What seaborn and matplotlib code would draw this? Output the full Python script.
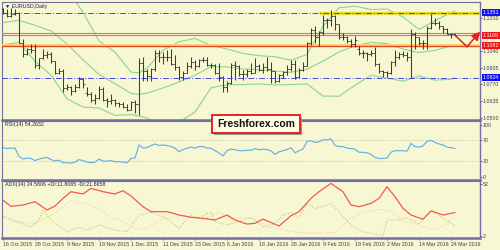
import matplotlib
matplotlib.use("Agg")
import matplotlib.pyplot as plt
import seaborn as sns
import pandas as pd
from matplotlib.patches import Rectangle

# ---------------- data ----------------
date_labels = ['16 Oct 2015', '28 Oct 2015', '9 Nov 2015', '19 Nov 2015', '1 Dec 2015',
               '11 Dec 2015', '23 Dec 2015', '6 Jan 2016', '18 Jan 2016', '28 Jan 2016',
               '9 Feb 2016', '19 Feb 2016', '2 Mar 2016', '14 Mar 2016', '24 Mar 2016']
label_bars = [0, 8, 16, 24, 32, 40, 48, 56, 64, 72, 80, 88, 96, 104, 112]

opens = [1.1380, 1.1350, 1.1323, 1.1343, 1.1344, 1.1108, 1.1015, 1.1055, 1.1048, 1.0925,
         1.0980, 1.1005, 1.1015, 1.0957, 1.0860, 1.0880, 1.0740, 1.0750, 1.0720, 1.0750,
         1.0815, 1.0700, 1.0688, 1.0645, 1.0658, 1.0730, 1.0645, 1.0635, 1.0645, 1.0620,
         1.0610, 1.0590, 1.0565, 1.0630, 1.0612, 1.0940, 1.0880, 1.0835, 1.0895, 1.1025,
         1.0990, 1.0990, 1.0995, 1.0935, 1.0910, 1.0830, 1.0865, 1.0918, 1.0955, 1.0915,
         1.0965, 1.0970, 1.0925, 1.0930, 1.0860, 1.0830, 1.0745, 1.0780, 1.0930, 1.0920,
         1.0855, 1.0855, 1.0875, 1.0865, 1.0915, 1.0890, 1.0910, 1.0895, 1.0875, 1.0795,
         1.0845, 1.0870, 1.0895, 1.0935, 1.0830, 1.0885, 1.0920, 1.1105, 1.1210, 1.1155,
         1.1195, 1.1290, 1.1290, 1.1325, 1.1255, 1.1155, 1.1150, 1.1125, 1.1100, 1.1060,
         1.1020, 1.1020, 1.1015, 1.1025, 1.0935, 1.0875, 1.0870, 1.0865, 1.0955, 1.0995,
         1.1015, 1.1005, 1.0995, 1.1180, 1.1150, 1.1105, 1.1105, 1.1225, 1.1270, 1.1265,
         1.1240, 1.1220, 1.1180, 1.1180]
highs = [1.1387, 1.1379, 1.1386, 1.1381, 1.1358, 1.1135, 1.1065, 1.1095, 1.1094, 1.0985,
         1.1055, 1.1040, 1.1035, 1.0960, 1.0900, 1.0895, 1.0775, 1.0760, 1.0770, 1.0830,
         1.0820, 1.0750, 1.0705, 1.0690, 1.0760, 1.0750, 1.0660, 1.0690, 1.0650, 1.0630,
         1.0625, 1.0610, 1.0635, 1.0640, 1.0981, 1.0990, 1.0895, 1.0900, 1.1045, 1.1045,
         1.1030, 1.1050, 1.1060, 1.1005, 1.0915, 1.0880, 1.0950, 1.0990, 1.0965, 1.0975,
         1.0990, 1.0990, 1.0945, 1.0935, 1.0945, 1.0835, 1.0795, 1.0940, 1.0960, 1.0930,
         1.0890, 1.0895, 1.0945, 1.0985, 1.0935, 1.0945, 1.0995, 1.0950, 1.0880, 1.0850,
         1.0875, 1.0925, 1.0965, 1.0970, 1.0905, 1.0950, 1.1115, 1.1230, 1.1245, 1.1205,
         1.1335, 1.1310, 1.1376, 1.1335, 1.1260, 1.1190, 1.1165, 1.1140, 1.1165, 1.1080,
         1.1050, 1.1030, 1.1050, 1.1070, 1.0945, 1.0890, 1.0880, 1.0960, 1.1045, 1.1030,
         1.1040, 1.1035, 1.1218, 1.1195, 1.1155, 1.1130, 1.1240, 1.1342, 1.1310, 1.1285,
         1.1245, 1.1225, 1.1190, 1.1190]
lows = [1.1336, 1.1319, 1.1316, 1.1333, 1.1105, 1.0988, 1.1005, 1.1020, 1.0900, 1.0896,
        1.0975, 1.0985, 1.0945, 1.0850, 1.0855, 1.0705, 1.0725, 1.0685, 1.0705, 1.0740,
        1.0740, 1.0675, 1.0630, 1.0615, 1.0655, 1.0635, 1.0590, 1.0610, 1.0595, 1.0585,
        1.0575, 1.0555, 1.0560, 1.0540, 1.0524, 1.0800, 1.0800, 1.0800, 1.0880, 1.0950,
        1.0935, 1.0960, 1.0925, 1.0890, 1.0805, 1.0805, 1.0860, 1.0900, 1.0890, 1.0910,
        1.0950, 1.0915, 1.0905, 1.0855, 1.0800, 1.0710, 1.0710, 1.0770, 1.0805, 1.0835,
        1.0805, 1.0830, 1.0850, 1.0860, 1.0875, 1.0860, 1.0880, 1.0780, 1.0780, 1.0790,
        1.0820, 1.0845, 1.0875, 1.0810, 1.0825, 1.0880, 1.0915, 1.1090, 1.1105, 1.1080,
        1.1170, 1.1230, 1.1240, 1.1210, 1.1135, 1.1130, 1.1105, 1.1070, 1.1070, 1.1010,
        1.0985, 1.0960, 1.1000, 1.0915, 1.0860, 1.0830, 1.0830, 1.0850, 1.0920, 1.0975,
        1.0990, 1.0960, 1.0822, 1.1060, 1.1090, 1.1060, 1.1055, 1.1215, 1.1250, 1.1220,
        1.1185, 1.1180, 1.1145, 1.1160]
closes = [1.1350, 1.1323, 1.1343, 1.1344, 1.1108, 1.1015, 1.1055, 1.1048, 1.0925, 1.0980,
          1.1005, 1.1015, 1.0957, 1.0860, 1.0880, 1.0740, 1.0750, 1.0720, 1.0750, 1.0815,
          1.0770, 1.0688, 1.0645, 1.0658, 1.0730, 1.0645, 1.0635, 1.0645, 1.0620, 1.0610,
          1.0590, 1.0565, 1.0630, 1.0612, 1.0940, 1.0880, 1.0835, 1.0895, 1.1025, 1.0990,
          1.0990, 1.0995, 1.0935, 1.0910, 1.0830, 1.0865, 1.0918, 1.0955, 1.0915, 1.0965,
          1.0970, 1.0925, 1.0930, 1.0860, 1.0830, 1.0745, 1.0780, 1.0930, 1.0920, 1.0855,
          1.0855, 1.0875, 1.0865, 1.0915, 1.0890, 1.0910, 1.0895, 1.0875, 1.0795, 1.0845,
          1.0870, 1.0895, 1.0935, 1.0830, 1.0885, 1.0920, 1.1105, 1.1210, 1.1155, 1.1195,
          1.1290, 1.1290, 1.1325, 1.1255, 1.1155, 1.1150, 1.1125, 1.1100, 1.1130, 1.1020,
          1.1020, 1.1015, 1.1025, 1.0935, 1.0875, 1.0870, 1.0865, 1.0955, 1.0995, 1.1015,
          1.1005, 1.0995, 1.1180, 1.1150, 1.1105, 1.1105, 1.1225, 1.1270, 1.1265, 1.1240,
          1.1220, 1.1180, 1.1180, 1.1165]

band_bars = [0, 4, 8, 12, 16, 20, 24, 28, 32, 34, 36, 40, 44, 48, 52, 56, 60, 64, 68, 72,
             76, 80, 84, 88, 92, 96, 100, 104, 108, 112, 113]
band_upper = [1.1450, 1.1468, 1.1538, 1.1561, 1.1541, 1.1354, 1.1122, 1.1031, 1.0869, 1.0863,
              1.0901, 1.1045, 1.1115, 1.1142, 1.1086, 1.1056, 1.1021, 1.1002, 1.0994, 1.0965,
              1.1012, 1.1241, 1.1390, 1.1403, 1.1376, 1.1380, 1.1316, 1.1215, 1.1285, 1.1352,
              1.1363]
band_mid = [1.1270, 1.1289, 1.1248, 1.1203, 1.1097, 1.0970, 1.0850, 1.0775, 1.0697, 1.0688,
            1.0699, 1.0741, 1.0789, 1.0844, 1.0914, 1.0911, 1.0894, 1.0888, 1.0879, 1.0867,
            1.0893, 1.0958, 1.1032, 1.1083, 1.1110, 1.1100, 1.1056, 1.1027, 1.1045, 1.1082,
            1.1093]
band_lower = [1.1090, 1.1110, 1.0958, 1.0845, 1.0653, 1.0586, 1.0578, 1.0519, 1.0525, 1.0513,
              1.0498, 1.0438, 1.0463, 1.0546, 1.0742, 1.0767, 1.0768, 1.0774, 1.0764, 1.0769,
              1.0774, 1.0675, 1.0674, 1.0763, 1.0844, 1.0821, 1.0796, 1.0838, 1.0804, 1.0811,
              1.0823]

rsi = [56, 54, 55, 55, 39, 34, 36, 35, 31, 34,
       36, 37, 33, 30, 32, 27, 27, 26, 28, 33,
       31, 28, 27, 28, 34, 30, 30, 31, 29, 29,
       28, 27, 35, 36, 61, 55, 56, 60, 63, 60,
       61, 60, 58, 55, 48, 52, 55, 57, 55, 58,
       58, 55, 55, 50, 46, 40, 50, 53, 52, 50,
       50, 51, 51, 54, 52, 53, 52, 50, 43, 48,
       50, 52, 56, 46, 50, 53, 68, 69, 66, 67,
       71, 71, 73, 60, 58, 58, 55, 54, 53, 47,
       47, 46, 43, 37, 35, 35, 36, 47, 50, 50,
       50, 49, 64, 58, 57, 59, 68, 70, 66, 63,
       61, 57, 56, 54.26]

adx_bars = [0, 2, 5, 8, 11, 13, 15, 17, 20, 22, 25, 28, 30, 32, 35, 37, 41, 44, 47, 50, 53, 56,
            58, 61, 63, 65, 69, 72, 74, 77, 79, 82, 85, 87, 89, 92, 94, 96, 98, 100, 102, 105,
            107, 110, 112, 113]
adx = [36.5, 30.5, 31.8, 35.0, 27.0, 30.8, 38.2, 44.6, 42.4, 47.8, 44.6, 42.4, 45.6, 40.5, 30.2,
       25.4, 25.4, 22.2, 20.0, 19.0, 17.4, 22.2, 17.4, 13.5, 14.2, 18.3, 11.6, 21.5, 25.4, 38.2,
       44.6, 52.6, 44.6, 31.8, 30.2, 33.4, 38.2, 49.4, 39.8, 28.6, 22.2, 18.1, 26.0, 22.2, 23.8,
       24.58]
pdi_bars = [0, 3, 7, 9, 10, 12, 16, 19, 21, 24, 28, 31, 34, 37, 41, 44, 47, 49, 52, 53, 56, 59,
            62, 65, 68, 70, 72, 74, 76, 78, 81, 82, 84, 87, 90, 95, 96, 99, 101, 104, 107, 108,
            110, 113]
pdi = [21.0, 15.8, 11.0, 17.4, 27.0, 17.4, 6.2, 10.4, 7.8, 12.6, 7.8, 6.2, 22.2, 24.8, 19.0, 9.4,
       22.0, 19.6, 25.4, 15.8, 12.6, 16.0, 19.6, 11.0, 13.6, 22.2, 24.6, 19.6, 33.4, 28.6, 31.8,
       33.4, 25.4, 12.6, 6.2, 2.0, 17.4, 17.4, 19.6, 13.6, 27.0, 26.0, 19.0, 11.81]
mdi_bars = [0, 4, 8, 12, 15, 17, 21, 24, 27, 30, 33, 35, 37, 40, 45, 50, 54, 57, 62, 66, 70, 74,
            79, 83, 87, 91, 94, 97, 100, 105, 108, 111, 113]
mdi = [20.0, 16.0, 14.0, 22.0, 30.0, 36.0, 33.0, 28.0, 20.0, 16.0, 10.0, 8.0, 12.0, 18.0, 22.0,
       18.0, 25.0, 19.0, 20.0, 11.0, 8.0, 5.0, 5.0, 5.0, 19.6, 25.4, 27.8, 26.0, 17.0, 11.0, 8.0,
       14.0, 21.87]

level_resistance = 1.1351
level_support = 1.0824
level_red_upper = [1.1183, 1.1169]
level_red_lower = 1.1082
level_yellow_lower = 1.1091
yellow_start_bar = 79
price_ticks = [1.0500, 1.0635, 1.0770, 1.0905, 1.1040, 1.1310]
boxed_levels = [1.1351, 1.1169, 1.1082, 1.0824]
forecast_bars = [113, 116, 119.3]
forecast_prices = [1.1168, 1.1075, 1.1197]

# ---------------- style ----------------
BG = '#f8f7d3'
FRAME = '#7070a4'
TXT = '#3a3a5a'
FS = 3.8
sns.set_style('white')
plt.rcParams['font.family'] = ['Liberation Sans', 'DejaVu Sans']

fig = plt.figure(figsize=(5, 2.5), dpi=100, facecolor=BG)
ax1 = fig.add_axes([0.004, 0.52, 0.956, 0.472])
ax2 = fig.add_axes([0.004, 0.28, 0.956, 0.236])
ax3 = fig.add_axes([0.004, 0.048, 0.956, 0.228])

XMIN, XMAX = -0.25, 119.25
for ax in (ax1, ax2, ax3):
    ax.set_facecolor(BG)
    ax.set_xlim(XMIN, XMAX)
    ax.yaxis.tick_right()
    ax.tick_params(axis='y', labelsize=FS, colors=TXT, length=1.2, width=0.6, pad=0.6,
                   direction='out', right=True, left=False)
    for s in ax.spines.values():
        s.set_color(FRAME)
        s.set_linewidth(0.8)
    ax.spines['bottom'].set_linewidth(1.8)
    ax.spines['right'].set_linewidth(1.0)

idx = list(range(len(closes)))
ohlc = pd.DataFrame({'bar': idx, 'open': opens, 'high': highs, 'low': lows, 'close': closes})

# ---------------- main price panel ----------------
ax1.set_ylim(1.04814, 1.1437)
bands = pd.DataFrame({'bar': band_bars, 'upper': band_upper, 'mid': band_mid, 'lower': band_lower})
for col in ('upper', 'mid', 'lower'):
    sns.lineplot(data=bands, x='bar', y=col, ax=ax1, color='#8dd48d', lw=0.8,
                 estimator=None, sort=False, zorder=2)

ax1.axhline(level_resistance, color='#4646e6', lw=0.7, ls=(0, (6, 2, 1, 2)), zorder=3)
ax1.axhline(level_support, color='#4646e6', lw=0.7, ls=(0, (6, 2, 1, 2)), zorder=3)
ax1.hlines(level_resistance, yellow_start_bar, XMAX, color='#e2dc3a', lw=2.4, zorder=2.5)
for lv in level_red_upper:
    ax1.axhline(lv, color='#e8705e', lw=0.8, zorder=3)
ax1.axhline(level_yellow_lower, color='#f0e05a', lw=1.4, zorder=2.8)
ax1.axhline(level_red_lower, color='#e2463c', lw=1.0, zorder=3)

bar_col = '#3c3c3c'
ax1.vlines(ohlc['bar'], ohlc['low'], ohlc['high'], color=bar_col, lw=0.75, zorder=4)
ax1.hlines(ohlc['open'], ohlc['bar'] - 0.45, ohlc['bar'], color=bar_col, lw=0.6, zorder=4)
ax1.hlines(ohlc['close'], ohlc['bar'], ohlc['bar'] + 0.45, color=bar_col, lw=0.6, zorder=4)

ax1.plot(forecast_bars[:2], forecast_prices[:2], color='#e62020', lw=1.1, zorder=6, clip_on=False)
ax1.annotate('', xy=(forecast_bars[2], forecast_prices[2]),
             xytext=(forecast_bars[1], forecast_prices[1]),
             arrowprops=dict(arrowstyle='-|>,head_length=0.5,head_width=0.25',
                             color='#e62020', lw=1.1, shrinkA=0, shrinkB=0),
             zorder=6, annotation_clip=False)

ax1.set_yticks(price_ticks)
ax1.set_yticklabels([f'{v:.4f}' for v in price_ticks])
ax1.set_xticks([])
box_colors = ['#1010f0', '#f01414', '#f01414', '#1010f0']
ytr = ax1.get_yaxis_transform()
for v, c in zip(boxed_levels, box_colors):
    ax1.text(1.006, v, f'{v:.4f}', transform=ytr, ha='left', va='center', fontsize=FS,
             color='white', zorder=10, clip_on=False,
             bbox=dict(boxstyle='square,pad=0.2', fc=c, ec=c, lw=0))
ax1.text(0.006, 0.985, '\u25bc EURUSD,Daily', transform=ax1.transAxes, ha='left', va='top',
         fontsize=FS, color='#202040')

# ---------------- RSI panel ----------------
ax2.set_ylim(-6.3, 107.1)
for lv in (70, 30):
    ax2.axhline(lv, color='#c9c7ad', lw=0.6, ls=(0, (1.5, 1.5)))
sns.lineplot(x=idx, y=rsi, ax=ax2, color='#5aaee6', lw=0.8, estimator=None, sort=False)
ax2.set_yticks([0, 30, 70, 100])
ax2.set_yticklabels(['0', '30', '70', '100'])
ax2.set_xticks([])
ax2.text(0.006, 0.975, 'RSI(14) 54.2632', transform=ax2.transAxes, ha='left', va='top',
         fontsize=FS, color='#202040')

# ---------------- ADX panel ----------------
ax3.set_ylim(0.08, 54.9)
sns.lineplot(x=mdi_bars, y=mdi, ax=ax3, color='#f2c4aa', lw=0.7, ls=':', estimator=None, sort=False)
sns.lineplot(x=pdi_bars, y=pdi, ax=ax3, color='#b4cc62', lw=0.8, ls=':', estimator=None, sort=False)
sns.lineplot(x=adx_bars, y=adx, ax=ax3, color='#f25a4c', lw=0.9, estimator=None, sort=False)
ax3.set_yticks([2, 52])
ax3.set_yticklabels(['2', '52'])
ax3.set_xticks(label_bars)
ax3.set_xticklabels(date_labels, ha='left')
ax3.tick_params(axis='x', labelsize=FS, colors=TXT, length=1.5, width=0.6, pad=1.5,
                direction='out', bottom=True)
ax3.set_xlim(XMIN, XMAX)
ax3.text(0.006, 0.975, 'ADX(14) 24.5806 +DI:11.8065 -DI:21.8658', transform=ax3.transAxes,
         ha='left', va='top', fontsize=FS, color='#202040')

for ax in (ax1, ax2, ax3):
    ax.set_xlabel('')
    ax.set_ylabel('')

# ---------------- watermark box ----------------
fig.add_artist(Rectangle((0.428, 0.460), 0.176, 0.072, transform=fig.transFigure,
                         fc='#9a9a8a', ec='none', zorder=20))
fig.add_artist(Rectangle((0.424, 0.468), 0.176, 0.072, transform=fig.transFigure,
                         fc='#fffde8', ec='#e02424', lw=1.4, zorder=21))
fig.text(0.512, 0.504, 'Freshforex.com', ha='center', va='center', fontsize=7.5,
         fontweight='bold', family=['Liberation Sans', 'DejaVu Sans'], color='#111111', zorder=22)

fig.savefig('out.png', dpi=100, facecolor=BG)
